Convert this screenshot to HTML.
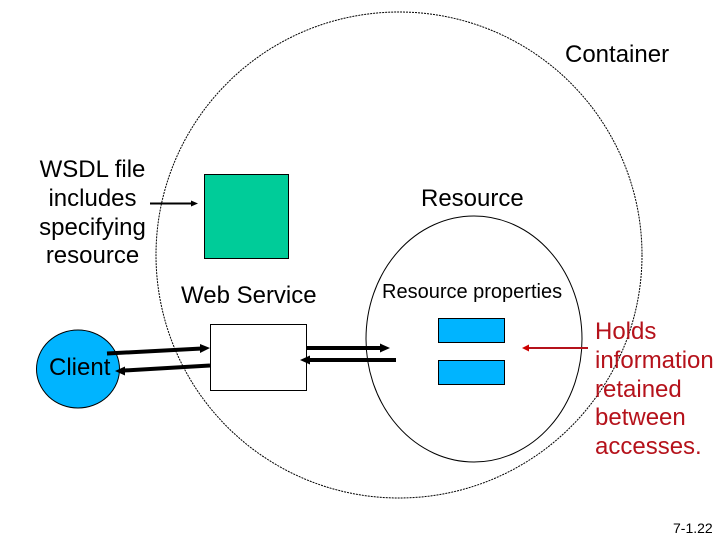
<!DOCTYPE html>
<html><head><meta charset="utf-8">
<style>
html,body{margin:0;padding:0;background:#fff}
svg{display:block}
text{font-family:"Liberation Sans",sans-serif;fill:#000}
</style></head>
<body>
<svg width="720" height="540" viewBox="0 0 720 540" xmlns="http://www.w3.org/2000/svg">
<rect width="720" height="540" fill="#fff"/>
<circle cx="399" cy="255" r="243" fill="none" stroke="#000" stroke-width="1" stroke-dasharray="2 1"/>
<ellipse cx="474" cy="339" rx="108" ry="123" fill="none" stroke="#000" stroke-width="1"/>
<rect x="204.500" y="174.500" width="84" height="84" fill="#00cc99" stroke="#000"/>
<rect x="210.500" y="324.500" width="96" height="66" fill="#fff" stroke="#000"/>
<rect x="438.500" y="318.500" width="66" height="24" fill="#00b4ff" stroke="#000"/>
<rect x="438.500" y="360.500" width="66" height="24" fill="#00b4ff" stroke="#000"/>
<ellipse cx="78" cy="369" rx="41.500" ry="39" fill="#00b4ff" stroke="#000"/>
<g stroke="#000" fill="#000">
<line x1="150" y1="203.500" x2="192" y2="203.500" stroke-width="2"/>
<path d="M198 203.500L191 200.500V206.500Z" stroke="none"/>
<line x1="107" y1="353.500" x2="202" y2="348.500" stroke-width="4"/>
<path d="M210 348L200 344V353Z" stroke="none"/>
<line x1="210" y1="365.500" x2="124" y2="370.500" stroke-width="4"/>
<path d="M115 371L125 366.500V375.500Z" stroke="none"/>
<line x1="306" y1="348" x2="382" y2="348" stroke-width="4"/>
<path d="M390 348L380 343.500V352.500Z" stroke="none"/>
<line x1="396" y1="360" x2="308" y2="360" stroke-width="4"/>
<path d="M300 360L310 355.500V364.500Z" stroke="none"/>
</g>
<line x1="588" y1="348" x2="528" y2="348" stroke="#b5121b" stroke-width="2"/>
<path d="M522 348L529 344.500V351.500Z" fill="#cc0000"/>
<g font-size="24">
<text x="565" y="62">Container</text>
<g text-anchor="middle">
<text x="92.500" y="177">WSDL file</text>
<text x="92.500" y="206">includes</text>
<text x="92.500" y="235">specifying</text>
<text x="92.500" y="263">resource</text>
</g>
<text x="421" y="206">Resource</text>
<text x="181" y="303">Web Service</text>
<text x="49" y="375">Client</text>
<g>
<text x="595" y="339" style="fill:#b5121b">Holds</text>
<text x="595" y="368" style="fill:#b5121b">information</text>
<text x="595" y="397" style="fill:#b5121b">retained</text>
<text x="595" y="425" style="fill:#b5121b">between</text>
<text x="595" y="454" style="fill:#b5121b">accesses.</text>
</g>
</g>
<text x="382" y="298" font-size="20">Resource properties</text>
<text x="673" y="533" font-size="14">7-1.22</text>
</svg>
</body></html>
